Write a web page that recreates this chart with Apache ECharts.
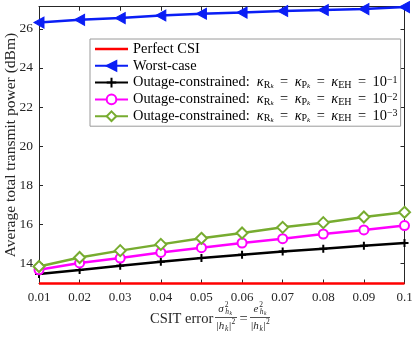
<!DOCTYPE html>
<html>
<head>
<meta charset="utf-8">
<script src="https://cdn.jsdelivr.net/npm/echarts@6/dist/echarts.min.js"></script>
<style>html,body{margin:0;padding:0;background:#fff;}#c{width:415px;height:340px;}</style>
</head>
<body>
<div id="c"></div>
<script>
const csitError = [0.01, 0.02, 0.03, 0.04, 0.05, 0.06, 0.07, 0.08, 0.09, 0.1];
const perfectCSI = [12.98, 12.98, 12.98, 12.98, 12.98, 12.98, 12.98, 12.98, 12.98, 12.98];
const worstCase = [26.32, 26.46, 26.55, 26.68, 26.77, 26.83, 26.91, 26.96, 27.01, 27.11];
const outage1 = [13.46, 13.67, 13.89, 14.09, 14.28, 14.45, 14.61, 14.76, 14.91, 15.05];
const outage2 = [13.68, 14.03, 14.28, 14.57, 14.81, 15.05, 15.27, 15.51, 15.72, 15.94];
const outage3 = [13.85, 14.31, 14.66, 14.98, 15.29, 15.56, 15.85, 16.09, 16.38, 16.62];
const yTicks = [14, 16, 18, 20, 22, 24, 26];
const xTicks = [0.01, 0.02, 0.03, 0.04, 0.05, 0.06, 0.07, 0.08, 0.09, 0.1];
const yMin = 12.98, yMax = 27.13;

const serif = '"Liberation Serif", "Times New Roman", serif';
const axisColor = '#262626';
const pairs = arr => csitError.map((x, i) => [x, arr[i]]);

const EQ = ' \u2009=\u2009 ';
const kappaText = exp =>
  '{t|Outage-constrained:  }{m|κ}{s|R}{k|k}{t|' + EQ + '}{m|κ}{s|P}{k|k}{t|' + EQ + '}{m|κ}{s|EH}{t|' + EQ + '10}{p|−' + exp + '}';
const legendLabels = {
  'Perfect CSI': '{t|Perfect CSI}',
  'Worst-case': '{t|Worst-case}',
  'o1': kappaText(1),
  'o2': kappaText(2),
  'o3': kappaText(3)
};

const chart = echarts.init(document.getElementById('c'), null, {renderer: 'canvas'});

const baseX = {
  type: 'value', min: 0.01, max: 0.1, interval: 0.01,
  axisLine: {show: true, lineStyle: {color: axisColor, width: 1}},
  axisTick: {show: true, inside: true, length: 4, customValues: xTicks, lineStyle: {color: axisColor}},
  splitLine: {show: false}
};
const baseY = {
  type: 'value', min: yMin, max: yMax,
  axisLine: {show: true, lineStyle: {color: axisColor, width: 1}},
  axisTick: {show: true, inside: true, length: 4, customValues: yTicks, lineStyle: {color: axisColor}},
  splitLine: {show: false}
};

function txt(x, y, text, size, italic, align) {
  return {
    type: 'text', x: x, y: y, silent: true,
    style: {
      text: text, fill: axisColor,
      font: (italic ? 'italic ' : '') + size + 'px ' + serif,
      align: align || 'center', verticalAlign: 'middle'
    }
  };
}
const TY = 319;
function fracDen(cx) {
  return [
    txt(cx - 7, TY + 7.5, '|', 11, false),
    txt(cx - 3, TY + 7.5, 'h', 11, true),
    txt(cx + 2.2, TY + 10, 'k', 7.5, true),
    txt(cx + 5.5, TY + 7.5, '|', 11, false),
    txt(cx + 8.8, TY + 3.5, '2', 7.5, false)
  ];
}
const graphics = [
  txt(150, TY, 'CSIT error', 14.5, false, 'left'),
  // fraction 1
  txt(221, TY - 10, 'σ', 11, true),
  txt(226.5, TY - 14, '2', 7.5, false),
  txt(227, TY - 7, 'h', 7.5, true),
  txt(230.8, TY - 5.5, 'k', 5.5, true),
  {type: 'line', silent: true, shape: {x1: 215, y1: TY - 1.5, x2: 237, y2: TY - 1.5}, style: {stroke: axisColor, lineWidth: 0.8}},
  ...fracDen(224.5),
  txt(243.5, TY, '=', 14.5, false),
  // fraction 2
  txt(256, TY - 10, 'e', 11, true),
  txt(261, TY - 14, '2', 7.5, false),
  txt(261.5, TY - 7, 'h', 7.5, true),
  txt(265.3, TY - 5.5, 'k', 5.5, true),
  {type: 'line', silent: true, shape: {x1: 250, y1: TY - 1.5, x2: 270, y2: TY - 1.5}, style: {stroke: axisColor, lineWidth: 0.8}},
  ...fracDen(259)
];

const option = {
  animation: false,
  backgroundColor: '#fff',
  grid: {left: 39, right: 10.5, top: 6.7, bottom: 56.5, containLabel: false, outerBoundsMode: 'none'},
  xAxis: [
    Object.assign({}, baseX, {
      position: 'bottom',
      axisLabel: {show: true, color: axisColor, fontFamily: serif, fontSize: 13, margin: 8, customValues: xTicks,
        formatter: v => String(Math.round(v * 100) / 100)}
    }),
    Object.assign({}, baseX, {position: 'top', axisLabel: {show: false}})
  ],
  yAxis: [
    Object.assign({}, baseY, {
      position: 'left',
      axisLabel: {show: true, color: axisColor, fontFamily: serif, fontSize: 13.5, margin: 6, customValues: yTicks},
      name: 'Average total transmit power (dBm)',
      nameLocation: 'middle', nameRotate: 90, nameGap: 20, nameMoveOverlap: false,
      nameTextStyle: {color: axisColor, fontFamily: serif, fontSize: 15.5}
    }),
    Object.assign({}, baseY, {position: 'right', axisLabel: {show: false}})
  ],
  legend: {
    orient: 'vertical', left: 90, top: 39,
    padding: [2.5, 3, 2.5, 4], itemGap: 1.8, itemWidth: 33, itemHeight: 12,
    backgroundColor: '#fff', borderColor: '#9a9a9a', borderWidth: 1,
    data: [
      {name: 'Perfect CSI', icon: 'path://M0,0H40V3H0Z'},
      'Worst-case', 'o1', 'o2', 'o3'
    ],
    formatter: name => legendLabels[name],
    textStyle: {
      color: '#000', fontFamily: serif, fontSize: 14.4, lineHeight: 15,
      rich: {
        t: {fontFamily: serif, fontSize: 14.4, lineHeight: 15, color: '#000'},
        m: {fontFamily: serif, fontSize: 14.4, fontStyle: 'italic', lineHeight: 15, color: '#000'},
        s: {fontFamily: serif, fontSize: 10, lineHeight: 9, verticalAlign: 'bottom', color: '#000'},
        k: {fontFamily: serif, fontSize: 7, fontStyle: 'italic', lineHeight: 5, verticalAlign: 'bottom', color: '#000'},
        p: {fontFamily: serif, fontSize: 10, lineHeight: 9, verticalAlign: 'top', color: '#000'}
      }
    }
  },
  graphic: graphics,
  series: [
    {
      name: 'Perfect CSI', type: 'line', data: pairs(perfectCSI), clip: false,
      symbol: 'none', color: '#ff0000', lineStyle: {width: 2.5, color: '#ff0000'}
    },
    {
      name: 'Worst-case', type: 'line', data: pairs(worstCase), clip: false,
      symbol: 'triangle', symbolRotate: 90, symbolSize: [11, 10], color: '#0a1ef5',
      lineStyle: {width: 2.5, color: '#0a1ef5'},
      itemStyle: {color: '#0a1ef5', borderColor: '#0a1ef5', borderWidth: 1}
    },
    {
      name: 'o1', type: 'line', data: pairs(outage1), clip: false,
      symbol: 'path://M5,0L5,10M0,5L10,5', symbolSize: 8, color: '#000',
      lineStyle: {width: 2.5, color: '#000'},
      itemStyle: {color: '#000', borderColor: '#000', borderWidth: 2}
    },
    {
      name: 'o2', type: 'line', data: pairs(outage2), clip: false,
      symbol: 'emptyCircle', symbolSize: 9, color: '#ff00ff',
      lineStyle: {width: 2.5, color: '#ff00ff'},
      itemStyle: {color: '#ff00ff', borderColor: '#ff00ff', borderWidth: 2}
    },
    {
      name: 'o3', type: 'line', data: pairs(outage3), clip: false,
      symbol: 'emptyDiamond', symbolSize: 11, color: '#77ac30',
      lineStyle: {width: 2.5, color: '#77ac30'},
      itemStyle: {color: '#77ac30', borderColor: '#77ac30', borderWidth: 2}
    }
  ]
};
chart.setOption(option);
</script>
</body>
</html>
